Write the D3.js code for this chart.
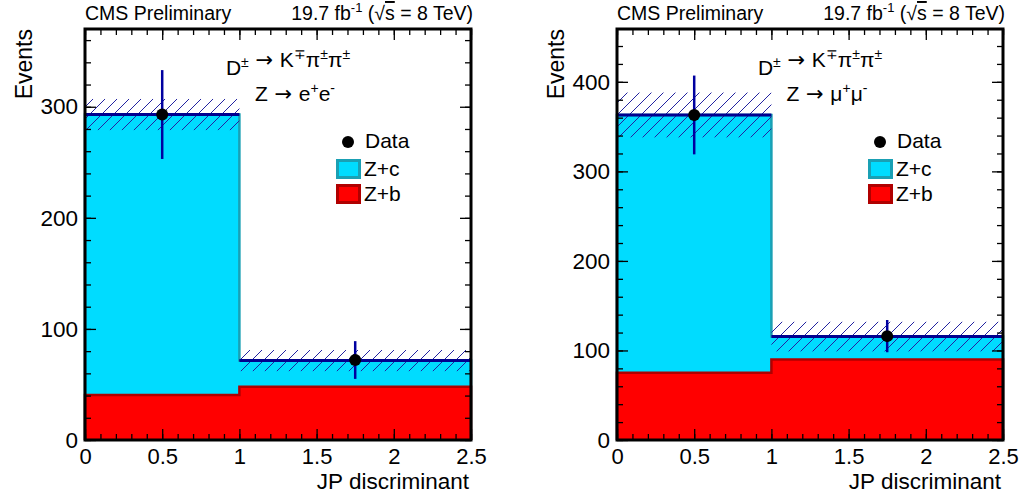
<!DOCTYPE html>
<html>
<head>
<meta charset="utf-8">
<script src="https://cdn.jsdelivr.net/npm/d3@7"></script>
<style>
  body { margin: 0; background: #fff; }
  svg text { font-family: "Liberation Sans", Arial, Helvetica, sans-serif; }
</style>
</head>
<body>
<div id="plot"></div>
<script>
// bins of the JP discriminant
const binEdges = [0, 1, 2.5];
const binCenters = [0.5, 1.75];

// Z -> ee channel
const eeZb = [40.5, 48];
const eeZc = [252.5, 23.5];
const eeData = [293, 72];
const eeDataErr = [40, 17];
const eeMcUnc = [14, 9.5];

// Z -> mumu channel
const mmZb = [75, 90];
const mmZc = [288, 25.5];
const mmData = [363, 116];
const mmDataErr = [44, 18];
const mmMcUnc = [25, 16.5];

const xTicks = [0, 0.5, 1, 1.5, 2, 2.5];
const eeYTicks = [0, 100, 200, 300];
const mmYTicks = [0, 100, 200, 300, 400];

const width = 1023, height = 500;

const svg = d3.select("#plot")
  .append("svg")
    .attr("width", width)
    .attr("height", height);

const defs = svg.append("defs");
defs.append("pattern")
    .attr("id", "hatch")
    .attr("patternUnits", "userSpaceOnUse")
    .attr("width", 12)
    .attr("height", 12)
  .append("path")
    .attr("d", "M-1,13 L13,-1 M-3,3 L3,-3 M9,15 L15,9")
    .attr("stroke", "#2323a0")
    .attr("stroke-width", 1);

function drawPanel(p) {
  const left = p.left, right = p.left + 386, top = 29, bottom = 440;
  const x = d3.scaleLinear().domain([0, 2.5]).range([left, right]);
  const y = d3.scaleLinear().domain([0, p.ymax]).range([bottom, top]);
  const g = svg.append("g");

  const total = p.zb.map((v, i) => v + p.zc[i]);

  // step path for a stacked histogram
  function step(vals) {
    let pts = [[x(binEdges[0]), y(0)]];
    vals.forEach((v, i) => {
      pts.push([x(binEdges[i]), y(v)]);
      pts.push([x(binEdges[i + 1]), y(v)]);
    });
    pts.push([x(binEdges[binEdges.length - 1]), y(0)]);
    return d3.line()(pts);
  }

  g.append("path").attr("d", step(total))
    .attr("fill", "#00dcff").attr("stroke", "#1aa0b4").attr("stroke-width", 2.5);
  g.append("path").attr("d", step(p.zb))
    .attr("fill", "#ff0000").attr("stroke", "#b00000").attr("stroke-width", 2.5);

  // MC uncertainty band
  g.selectAll(".unc").data(total).enter().append("rect")
    .attr("x", (d, i) => x(binEdges[i]))
    .attr("width", (d, i) => x(binEdges[i + 1]) - x(binEdges[i]))
    .attr("y", (d, i) => y(d + p.unc[i]))
    .attr("height", (d, i) => y(d - p.unc[i]) - y(d + p.unc[i]))
    .attr("fill", "url(#hatch)");

  // total MC line
  g.selectAll(".tot").data(total).enter().append("line")
    .attr("x1", (d, i) => x(binEdges[i]))
    .attr("x2", (d, i) => x(binEdges[i + 1]))
    .attr("y1", d => y(d)).attr("y2", d => y(d))
    .attr("stroke", "#00008f").attr("stroke-width", 3);

  // data
  g.selectAll(".err").data(p.data).enter().append("line")
    .attr("x1", (d, i) => x(binCenters[i]))
    .attr("x2", (d, i) => x(binCenters[i]))
    .attr("y1", (d, i) => y(d + p.err[i]))
    .attr("y2", (d, i) => y(d - p.err[i]))
    .attr("stroke", "#0000a0").attr("stroke-width", 2.5);
  g.selectAll(".pt").data(p.data).enter().append("circle")
    .attr("cx", (d, i) => x(binCenters[i]))
    .attr("cy", d => y(d))
    .attr("r", 6).attr("fill", "#000");

  // axes, ticks pointing inwards
  const minorX = d3.range(0, 2.51, 0.1);
  const minorY = d3.range(0, p.ymax, 20);
  function ax(axis, tr, vals, size, fmt) {
    const a = g.append("g").attr("transform", tr)
      .call(axis.tickValues(vals).tickSize(size).tickSizeOuter(0).tickFormat(fmt));
    a.select(".domain").remove();
    a.selectAll("line").attr("stroke", "#000").attr("stroke-width", 1.3);
    return a;
  }
  const blank = () => "";
  ax(d3.axisBottom(x), `translate(0,${bottom})`, minorX, -6, blank);
  ax(d3.axisTop(x), `translate(0,${top})`, minorX, -6, blank);
  ax(d3.axisTop(x), `translate(0,${top})`, xTicks, -11, blank);
  const xa = ax(d3.axisBottom(x).tickPadding(8), `translate(0,${bottom})`, xTicks, -11, d3.format("~g"));
  xa.selectAll("text").attr("font-size", 22).attr("fill", "#000")
    .attr("font-family", '"Liberation Sans", Arial, sans-serif');

  ax(d3.axisLeft(y), `translate(${left},0)`, minorY, -6, blank);
  ax(d3.axisRight(y), `translate(${right},0)`, minorY, -6, blank);
  ax(d3.axisRight(y), `translate(${right},0)`, p.yTicks, -11, blank);
  const ya = ax(d3.axisLeft(y).tickPadding(7), `translate(${left},0)`, p.yTicks, -11, d3.format("d"));
  ya.selectAll("text").attr("font-size", 22.5).attr("fill", "#000")
    .attr("font-family", '"Liberation Sans", Arial, sans-serif');

  // frame
  g.append("rect")
    .attr("x", left).attr("y", top)
    .attr("width", right - left).attr("height", bottom - top)
    .attr("fill", "none").attr("stroke", "#000").attr("stroke-width", 3);

  // axis titles
  g.append("text")
    .attr("transform", `translate(${left - 53},${top}) rotate(-90)`)
    .attr("text-anchor", "end")
    .style("font-size", "23px")
    .text("Events");
  g.append("text")
    .attr("x", right - 2).attr("y", 489)
    .attr("text-anchor", "end")
    .style("font-size", "22.5px")
    .text("JP discriminant");

  // header
  g.append("text")
    .attr("x", left).attr("y", 20)
    .style("font-size", "19.5px")
    .text("CMS Preliminary");
  const lumi = g.append("text")
    .attr("x", right + 2).attr("y", 20)
    .attr("text-anchor", "end")
    .style("font-size", "19.5px");
  lumi.append("tspan").text("19.7 fb");
  lumi.append("tspan").attr("dy", -8).style("font-size", "13px").text("-1");
  lumi.append("tspan").attr("dy", 8).text(" (\u221A");
  lumi.append("tspan").style("text-decoration", "overline").text("s");
  lumi.append("tspan").text(" = 8 TeV)");

  // process labels
  const arrow = t => t.append("tspan").style("font-family", '"DejaVu Sans", sans-serif').text(" \u2192 ");
  const l1 = g.append("text")
    .attr("x", left + 203).attr("y", 75)
    .attr("text-anchor", "middle")
    .style("font-size", "21px");
  l1.append("tspan").text("D");
  l1.append("tspan").attr("dy", -8).style("font-size", "14px").text("\u00B1");
  l1.append("tspan").attr("dy", 8).text("");
  arrow(l1);
  l1.append("tspan").text("K");
  l1.append("tspan").attr("dy", -8).style("font-size", "14px").text("\u2213");
  l1.append("tspan").attr("dy", 8).text("\u03C0");
  l1.append("tspan").attr("dy", -8).style("font-size", "14px").text("\u00B1");
  l1.append("tspan").attr("dy", 8).text("\u03C0");
  l1.append("tspan").attr("dy", -8).style("font-size", "14px").text("\u00B1");

  const l2 = g.append("text")
    .attr("x", left + 210).attr("y", 101)
    .attr("text-anchor", "middle")
    .style("font-size", "21px");
  l2.append("tspan").text("Z");
  arrow(l2);
  l2.append("tspan").text(p.lep);
  l2.append("tspan").attr("dy", -8).style("font-size", "14px").text("+");
  l2.append("tspan").attr("dy", 8).text(p.lep);
  l2.append("tspan").attr("dy", -8).style("font-size", "14px").text("-");

  // legend
  const lx = left + 251;
  g.append("circle").attr("cx", lx + 12).attr("cy", 142).attr("r", 6).attr("fill", "#000");
  g.append("text").attr("x", lx + 29).attr("y", 148).style("font-size", "21px").text("Data");
  const entries = [
    { label: "Z+c", fill: "#00dcff", stroke: "#1aa0b4", y: 159 },
    { label: "Z+b", fill: "#ff0000", stroke: "#b00000", y: 184 }
  ];
  entries.forEach(e => {
    g.append("rect").attr("x", lx + 1.5).attr("y", e.y + 1.5)
      .attr("width", 22).attr("height", 17)
      .attr("fill", e.fill).attr("stroke", e.stroke).attr("stroke-width", 3);
    g.append("text").attr("x", lx + 28).attr("y", e.y + 17).style("font-size", "21px").text(e.label);
  });
}

drawPanel({ left: 85, ymax: 370, yTicks: eeYTicks, zb: eeZb, zc: eeZc,
  data: eeData, err: eeDataErr, unc: eeMcUnc, lep: "e" });
drawPanel({ left: 617, ymax: 459, yTicks: mmYTicks, zb: mmZb, zc: mmZc,
  data: mmData, err: mmDataErr, unc: mmMcUnc, lep: "\u03BC" });
</script>
</body>
</html>
